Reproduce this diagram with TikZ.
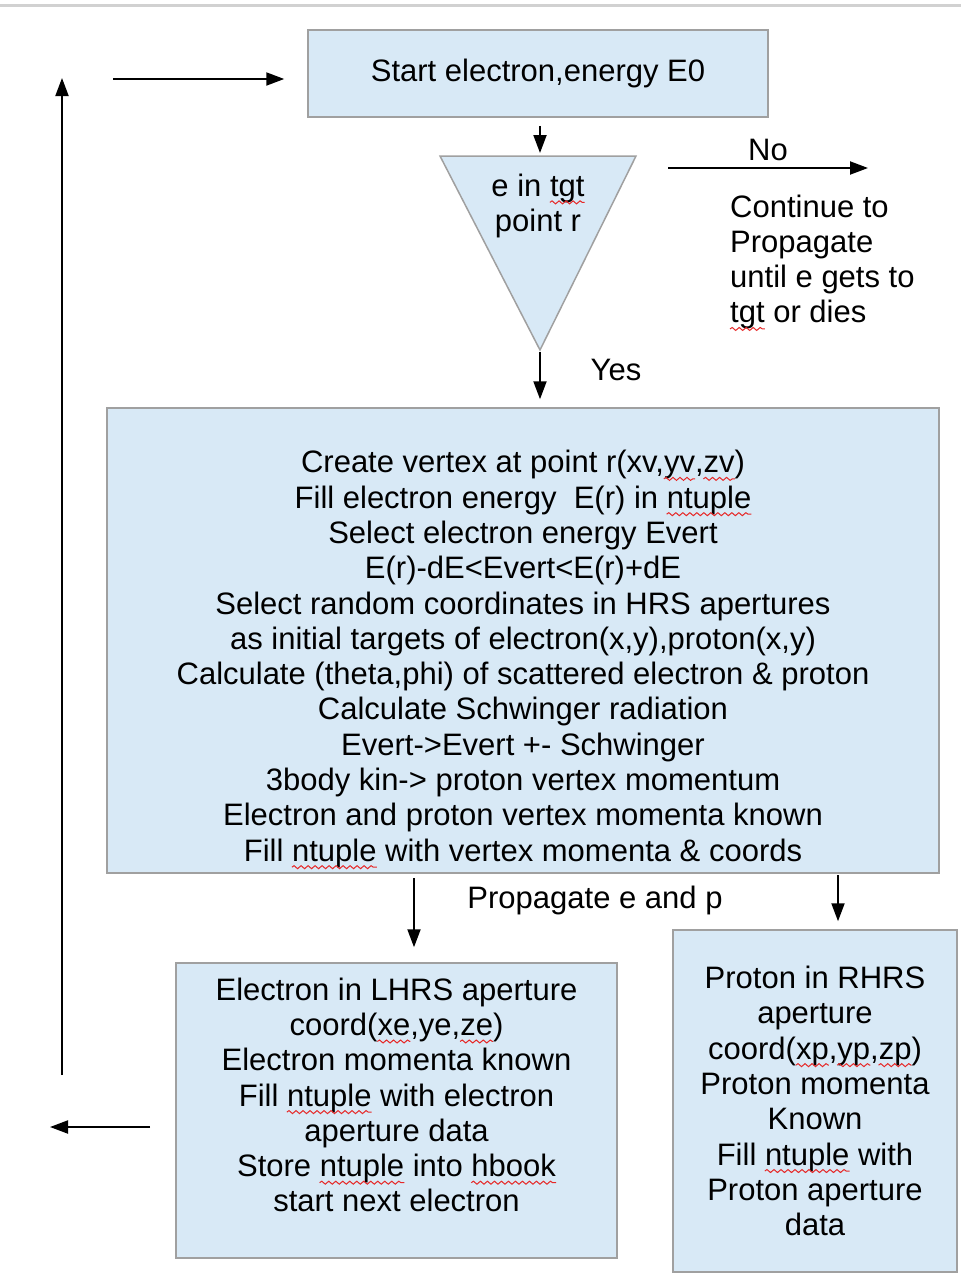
\documentclass[tikz,border=0pt]{standalone}
\usepackage{fontspec}
\setmainfont{Liberation Sans}
\usetikzlibrary{arrows.meta,decorations.pathmorphing}
\definecolor{boxblue}{RGB}{216,233,246}
\definecolor{boxline}{RGB}{160,160,160}
\definecolor{spellred}{RGB}{230,40,40}
\newcommand\spell[1]{\tikz[baseline=(w.base)]{\node[shape=rectangle, draw=none, fill=none, inner sep=0pt, minimum size=0pt] (w) {#1};
  \draw[overlay, spellred, line width=1pt, decorate, decoration={snake, segment length=7pt, amplitude=1.5pt}]
    ([yshift=-6pt]w.base west) -- ([yshift=-6pt]w.base east);}}

\begin{document}
\begin{tikzpicture}[x=1pt, y=-1pt, line width=2pt,
                    every node/.style={font=\fontsize{31}{35.3}\selectfont, align=center, inner sep=0pt},
                    flow box/.style={draw=boxline, line width=1.5pt, fill=boxblue},
                    flow arrow/.style={-{Triangle[length=18pt,width=13pt]}, line width=2pt}]

  \useasboundingbox (0,0) rectangle (961,1282);
  \draw[black!18, line width=3pt] (0,5) -- (961,5);

  \node[flow box, minimum width=460pt, minimum height=87pt] (1) at (538,73.5) {Start electron,energy E0};

  % decision triangle
  \coordinate (tritop) at (540,156);
  \coordinate (tritip) at (540,350);
  \draw[flow box] (440,156) -- (636,156) -- (tritip) -- cycle;
  \node (2) at (538,206) {e in \spell{tgt}\\point r};

  \node[flow box, minimum width=832pt, minimum height=465pt] (3) at (523,640.5) {};
  \node (3t) at (523,659) {Create vertex at point r(xv,\spell{yv},\spell{zv})\\
    Fill electron energy\ \ E(r) in \spell{ntuple}\\
    Select electron energy Evert\\
    E(r)-dE<Evert<E(r)+dE\\
    Select random coordinates in HRS apertures\\
    as initial targets of electron(x,y),proton(x,y)\\
    Calculate (theta,phi) of scattered electron \& proton\\
    Calculate Schwinger radiation\\
    Evert->Evert +- Schwinger\\
    3body kin-> proton vertex momentum\\
    Electron and proton vertex momenta known\\
    Fill \spell{ntuple} with vertex momenta \& coords};

  \node[flow box, minimum width=441pt, minimum height=295pt] (4) at (396.5,1110.5) {};
  \node (4t) at (396.5,1095) {Electron in LHRS aperture\\
    coord(\spell{xe},ye,\spell{ze})\\
    Electron momenta known\\
    Fill \spell{ntuple} with electron\\
    aperture data\\
    Store \spell{ntuple} into \spell{hbook}\\
    start next electron};

  \node[flow box, minimum width=284pt, minimum height=342pt] (5) at (815,1101) {};
  \node (5t) at (815,1101) {Proton in RHRS\\
    aperture\\
    coord(\spell{xp},\spell{yp},\spell{zp})\\
    Proton momenta\\
    Known\\
    Fill \spell{ntuple} with\\
    Proton aperture\\
    data};

  \node (no) at (768,150) {No};
  \node[align=left, anchor=west] (cont) at (730,262) {Continue to\\Propagate\\until e gets to\\\spell{tgt} or dies};
  \node (yes) at (616,370) {Yes};
  \node (prop) at (595,900) {Propagate e and p};

  \coordinate (no1) at (668,168);
  \coordinate (no2) at (868,168);
  \coordinate (ebr) at (414,873);
  \coordinate (pbr) at (838,873);
  \coordinate (ret1) at (150,1127);
  \coordinate (ret2) at (50,1127);
  \coordinate (up1) at (62,1075);
  \coordinate (up2) at (62,78);
  \coordinate (back) at (113,79);

\path[flow arrow]
     (1.south -| tritop) edge [shorten <=8pt, shorten >=3pt] (tritop)
     (tritip) edge [shorten <=2pt, shorten >=8pt] (3.north -| tritip)
     (no1) edge (no2)
     (ebr) edge [shorten <=5pt, shorten >=15pt] (4.north -| ebr)
     (pbr) edge [shorten <=2pt, shorten >=8pt] (5.north -| pbr)
     (ret1) edge (ret2)
     (up1) edge (up2)
     (back) edge [shorten >=23pt] (1.west |- back)
   ;

\end{tikzpicture}
\end{document}
